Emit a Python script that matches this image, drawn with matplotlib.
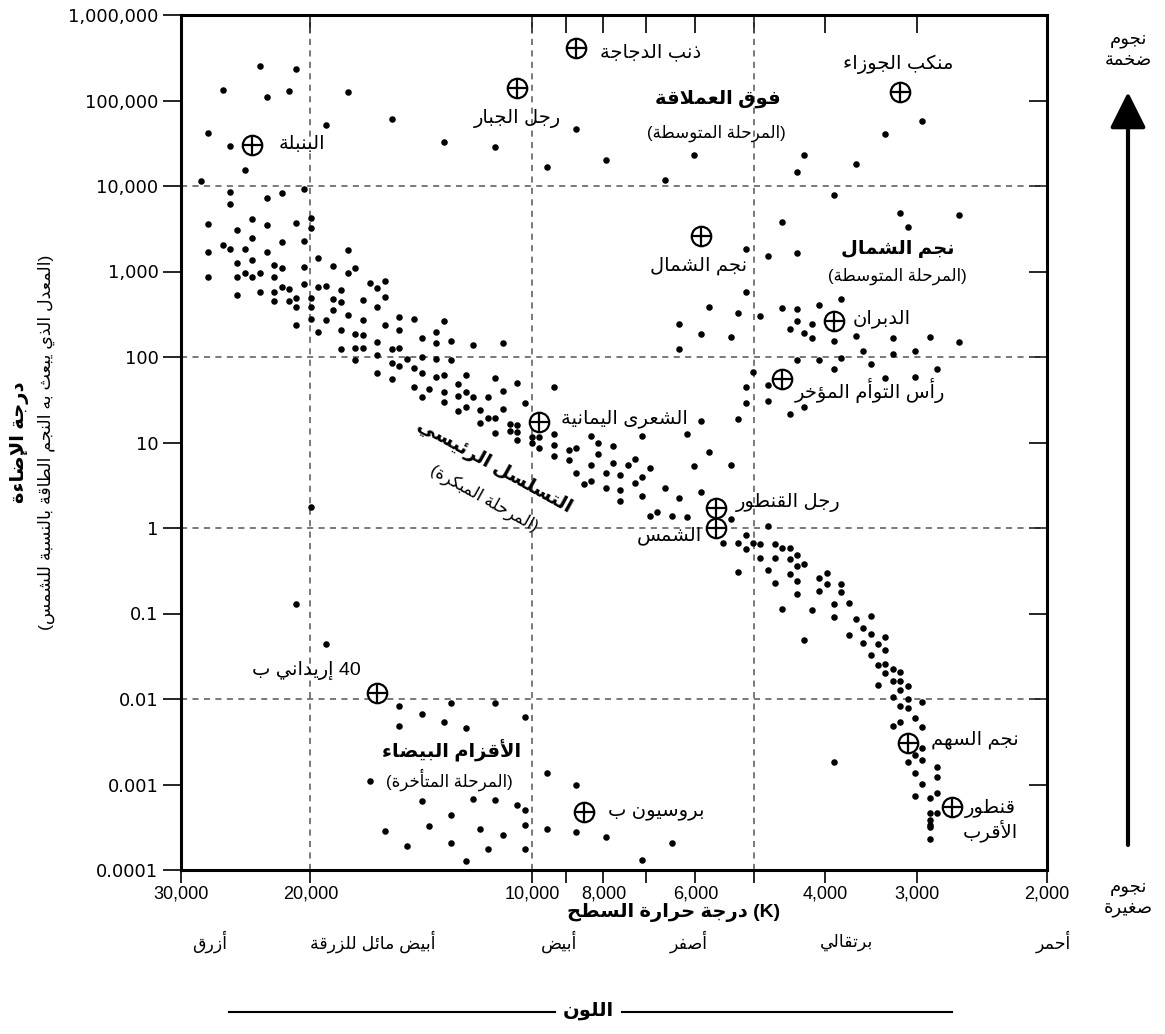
import re
import matplotlib
matplotlib.use("Agg")
import matplotlib.pyplot as plt
from matplotlib.lines import Line2D
import numpy as np

plt.rcParams['font.family'] = ['Liberation Sans', 'DejaVu Sans']

W, H = 1165, 1034

# ---------------- data (log10 T [K], log10 L [L_sun]) ----------------
supergiants = [
    (4.37, 5.40), (4.32, 5.37), (4.42, 5.12), (4.36, 5.04), (4.33, 5.11),
    (4.25, 5.10), (4.19, 4.78), (4.28, 4.71), (4.44, 4.62), (4.12, 4.52),
    (4.41, 4.47), (4.39, 4.19), (4.45, 4.06),
    (4.05, 4.46), (3.98, 4.22), (3.94, 4.67), (3.90, 4.30), (3.82, 4.07),
    (3.78, 4.36), (3.47, 4.76), (3.52, 4.61), (3.63, 4.36), (3.64, 4.16),
    (3.56, 4.26),
]

giants = [
    (3.71, 3.26), (3.71, 2.76), (3.76, 2.58), (3.59, 3.90), (3.50, 3.68),
    (3.49, 3.52), (3.42, 3.66), (3.66, 3.58), (3.68, 3.18), (3.64, 3.22),
    (3.66, 2.57), (3.64, 2.56), (3.61, 2.61), (3.58, 2.68),
    (3.72, 2.51), (3.69, 2.48), (3.80, 2.39), (3.77, 2.27), (3.73, 2.23),
    (3.80, 2.09), (3.79, 1.10), (3.77, 1.25), (3.72, 1.28), (3.71, 1.65),
    (3.70, 1.83), (3.71, 1.46), (3.78, 0.73), (3.76, 0.89), (3.73, 0.74),
    (3.64, 2.42), (3.65, 2.33), (3.63, 2.28), (3.62, 2.39), (3.62, 2.22),
    (3.59, 2.19), (3.56, 2.25), (3.51, 2.22), (3.46, 2.23), (3.42, 2.17),
    (3.55, 2.07), (3.51, 2.03), (3.48, 2.07), (3.64, 1.97), (3.61, 1.97),
    (3.58, 1.99), (3.54, 1.92), (3.59, 1.86), (3.52, 1.76), (3.48, 1.77),
    (3.45, 1.86), (3.68, 1.67), (3.68, 1.48), (3.63, 1.41), (3.65, 1.33),
]

main_sequence = [
    (4.41, 3.93), (4.36, 3.86), (4.34, 3.92), (4.31, 3.96), (4.41, 3.79),
    (4.44, 3.56), (4.38, 3.61), (4.36, 3.54), (4.32, 3.57), (4.30, 3.63),
    (4.30, 3.51), (4.40, 3.48), (4.38, 3.39), (4.34, 3.34), (4.31, 3.36),
    (4.44, 3.23), (4.42, 3.31), (4.41, 3.26), (4.39, 3.26), (4.36, 3.23),
    (4.25, 3.25), (4.29, 3.16), (4.40, 3.10), (4.38, 3.13), (4.35, 3.08),
    (4.34, 3.04), (4.31, 3.05), (4.27, 3.07), (4.24, 3.04), (4.44, 2.93),
    (4.40, 2.93), (4.39, 2.98), (4.38, 2.93), (4.37, 2.98), (4.35, 2.93),
    (4.25, 2.98), (4.22, 2.87), (4.21, 2.81), (4.20, 2.89), (4.31, 2.85),
    (4.34, 2.82), (4.33, 2.80), (4.29, 2.82), (4.28, 2.83), (4.26, 2.78),
    (4.40, 2.73), (4.37, 2.76), (4.35, 2.76), (4.35, 2.65), (4.33, 2.66),
    (4.32, 2.69), (4.30, 2.69), (4.27, 2.68), (4.26, 2.64), (4.23, 2.67),
    (4.20, 2.70), (4.32, 2.58), (4.30, 2.59), (4.27, 2.55), (4.21, 2.59),
    (4.32, 2.37), (4.30, 2.44), (4.28, 2.43), (4.29, 2.29), (4.26, 2.31),
    (4.25, 2.49), (4.23, 2.43), (4.24, 2.27), (4.23, 2.26), (4.26, 2.09),
    (4.24, 2.11), (4.23, 2.11), (4.21, 2.18), (4.24, 1.97), (4.21, 2.02),
    (4.20, 2.38), (4.18, 2.47), (4.18, 2.32), (4.16, 2.44), (4.12, 2.42),
    (4.15, 2.22), (4.13, 2.29), (4.13, 2.16), (4.11, 2.19), (4.19, 2.09),
    (4.18, 2.10), (4.19, 1.93), (4.18, 1.89), (4.17, 1.98), (4.15, 2.00),
    (4.13, 1.98), (4.11, 1.97), (4.16, 1.87), (4.15, 1.81), (4.13, 1.77),
    (4.12, 1.79), (4.21, 1.81), (4.19, 1.74), (4.16, 1.65), (4.14, 1.62),
    (4.12, 1.59), (4.15, 1.53), (4.12, 1.47), (4.10, 1.68), (4.10, 1.54),
    (4.10, 1.37),
    (4.08, 2.14), (4.04, 2.16), (4.09, 1.79), (4.05, 1.75), (4.02, 1.70),
    (4.04, 1.60), (3.97, 1.65), (4.09, 1.59), (4.08, 1.53), (4.06, 1.53),
    (4.01, 1.46), (4.09, 1.42), (4.07, 1.38), (4.04, 1.39), (4.06, 1.29),
    (4.05, 1.29), (4.07, 1.23), (4.03, 1.22), (4.02, 1.21), (4.05, 1.11),
    (4.03, 1.13), (4.02, 1.12), (4.00, 1.07), (4.02, 1.03), (4.00, 0.99),
    (3.99, 1.07), (3.97, 1.10), (3.99, 0.93), (3.97, 0.97), (3.95, 0.91),
    (3.97, 0.84), (3.95, 0.80), (3.94, 0.93), (3.92, 1.08), (3.91, 0.99),
    (3.91, 0.87), (3.89, 0.96), (3.85, 1.08), (3.94, 0.64), (3.93, 0.52),
    (3.92, 0.55), (3.92, 0.74), (3.90, 0.64), (3.90, 0.47), (3.89, 0.76),
    (3.88, 0.62), (3.88, 0.44), (3.87, 0.74), (3.86, 0.81), (3.86, 0.53),
    (3.85, 0.60), (3.88, 0.32), (3.85, 0.38), (3.84, 0.70), (3.82, 0.47),
    (3.80, 0.35), (3.84, 0.14), (3.83, 0.19), (3.81, 0.14), (3.79, 0.13),
    (3.77, 0.42), (3.73, 0.10), (3.72, -0.52), (3.74, -0.18), (3.72, -0.18),
    (3.71, -0.08), (3.71, -0.25), (3.70, -0.17), (3.69, -0.19),
    (3.68, 0.02), (3.67, -0.19), (3.66, -0.23), (3.65, -0.23), (3.69, -0.35),
    (3.67, -0.35), (3.65, -0.36), (3.64, -0.32), (3.68, -0.49), (3.65, -0.54),
    (3.64, -0.44), (3.63, -0.42), (3.60, -0.53), (3.67, -0.64), (3.64, -0.62),
    (3.61, -0.58), (3.60, -0.65), (3.58, -0.65),
    (3.64, -0.77), (3.61, -0.74), (3.58, -0.75), (3.66, -0.95), (3.62, -0.96),
    (3.59, -0.89), (3.57, -0.88), (3.59, -1.04), (3.56, -1.07), (3.54, -1.03),
    (3.63, -1.31), (3.57, -1.25), (3.55, -1.17), (3.54, -1.24), (3.52, -1.28),
    (3.55, -1.34), (3.53, -1.36), (3.52, -1.43), (3.54, -1.48), (3.53, -1.60),
    (3.52, -1.59), (3.51, -1.65), (3.50, -1.68), (3.52, -1.70), (3.51, -1.79),
    (3.50, -1.79), (3.49, -1.85), (3.53, -1.84), (3.50, -1.90), (3.51, -1.98),
    (3.49, -2.00), (3.47, -2.03), (3.50, -2.08), (3.49, -2.11), (3.48, -2.22),
    (3.51, -2.32), (3.50, -2.27), (3.47, -2.33), (3.47, -2.57), (3.48, -2.65),
    (3.47, -2.71), (3.49, -2.74), (3.48, -2.86), (3.45, -2.80), (3.45, -2.91),
    (3.47, -2.99), (3.48, -3.13), (3.46, -3.16), (3.45, -3.10), (3.46, -3.33),
    (3.45, -3.33), (3.46, -3.42), (3.46, -3.47), (3.46, -3.50), (3.46, -3.64),
    (3.59, -2.74),
]

white_dwarfs = [
    (4.30, 0.25), (4.32, -0.89), (4.28, -1.36),
    (4.18, -2.08), (4.15, -2.18), (4.11, -2.05), (4.18, -2.32), (4.12, -2.27),
    (4.22, -2.96), (4.15, -3.19), (4.11, -3.36), (4.14, -3.48), (4.20, -3.54),
    (4.17, -3.72), (4.11, -3.69),
    (4.05, -2.05), (4.01, -2.21), (4.09, -2.34), (3.98, -2.87), (3.94, -3.01),
    (4.08, -3.17), (4.05, -3.18), (4.02, -3.24), (4.01, -3.30), (4.01, -3.47),
    (4.07, -3.52), (4.04, -3.59), (4.06, -3.75), (4.01, -3.76), (4.09, -3.90),
    (3.98, -3.52), (3.94, -3.55), (3.90, -3.61), (3.81, -3.69), (3.85, -3.88),
]

# named stars
star_names = ["البنبلة", "ذنب الدجاجة", "رجل الجبار", "منكب الجوزاء", "نجم الشمال",
              "الدبران", "رأس التوأم المؤخر", "الشعرى اليمانية", "رجل القنطور",
              "الشمس", "40 إريداني ب", "بروسيون ب", "نجم السهم", "قنطور\nالأقرب"]
star_log_t = [4.38, 3.94, 4.02, 3.50, 3.77, 3.59, 3.66, 3.99, 3.75, 3.75,
              4.21, 3.93, 3.49, 3.43]
star_log_l = [4.48, 5.61, 5.15, 5.10, 3.41, 2.42, 1.74, 1.24, 0.23, 0.00,
              -1.93, -3.32, -2.51, -3.26]

x_ticks = [30000, 20000, 10000, 9000, 8000, 7000, 6000, 5000, 4000, 3000, 2000]
x_labels = ["30,000", "20,000", "10,000", "", "8,000", "", "6,000", "",
            "4,000", "3,000", "2,000"]
y_ticks = [1e6, 1e5, 1e4, 1e3, 1e2, 10, 1, 0.1, 0.01, 0.001, 0.0001]
y_labels = ["1,000,000", "100,000", "10,000", "1,000", "100", "10", "1",
            "0.1", "0.01", "0.001", "0.0001"]
color_names = ["أزرق", "أبيض مائل للزرقة", "أبيض", "أصفر", "برتقالي", "أحمر"]

# ---------------- Arabic shaping (matplotlib draws no RTL/joining) ----------------
DUAL = {'ئ': 0xFE89, 'ب': 0xFE8F, 'ت': 0xFE95, 'ث': 0xFE99, 'ج': 0xFE9D,
        'ح': 0xFEA1, 'خ': 0xFEA5, 'س': 0xFEB1, 'ش': 0xFEB5, 'ص': 0xFEB9,
        'ض': 0xFEBD, 'ط': 0xFEC1, 'ظ': 0xFEC5, 'ع': 0xFEC9, 'غ': 0xFECD,
        'ف': 0xFED1, 'ق': 0xFED5, 'ك': 0xFED9, 'ل': 0xFEDD, 'م': 0xFEE1,
        'ن': 0xFEE5, 'ه': 0xFEE9, 'ي': 0xFEF1}
RIGHT = {'آ': 0xFE81, 'أ': 0xFE83, 'ؤ': 0xFE85, 'إ': 0xFE87, 'ا': 0xFE8D,
         'ة': 0xFE93, 'د': 0xFEA9, 'ذ': 0xFEAB, 'ر': 0xFEAD, 'ز': 0xFEAF,
         'و': 0xFEED, 'ى': 0xFEEF}
LAM_ALEF = {'آ': 0xFEF5, 'أ': 0xFEF7, 'إ': 0xFEF9, 'ا': 0xFEFB}


def shape_line(text):
    units = []
    i = 0
    while i < len(text):
        c = text[i]
        if c == 'ل' and i + 1 < len(text) and text[i + 1] in LAM_ALEF:
            units.append((LAM_ALEF[text[i + 1]], 'R'))
            i += 2
            continue
        if c in DUAL:
            units.append((DUAL[c], 'D'))
        elif c in RIGHT:
            units.append((RIGHT[c], 'R'))
        elif c == 'ء':
            units.append((0xFE80, 'U'))
        else:
            units.append((c, None))
        i += 1
    out = []
    for k, (g, t) in enumerate(units):
        if t is None:
            out.append(g)
            continue
        if t == 'U':
            out.append(chr(g))
            continue
        join_prev = k > 0 and units[k - 1][1] == 'D'
        join_next = t == 'D' and k + 1 < len(units) and units[k + 1][1] in ('D', 'R')
        if join_prev and join_next:
            idx = 3
        elif join_prev:
            idx = 1
        elif join_next:
            idx = 2
        else:
            idx = 0
        out.append(chr(g + idx))
    vis = ''.join(out)[::-1]
    vis = re.sub(r'[0-9A-Za-z.,]+', lambda m: m.group(0)[::-1], vis)
    return vis.translate(str.maketrans('()', ')('))


def ar(text):
    return '\n'.join(shape_line(line) for line in text.split('\n'))


def fig_xy(x, y):
    return x / W, 1 - y / H


# ---------------- figure ----------------
fig = plt.figure(figsize=(W / 100, H / 100), dpi=100)
ax = fig.add_axes([180.7 / W, 1 - 870 / H, 866 / W, 855 / H])
ax.set_xscale('log')
ax.set_yscale('log')
ax.set_xlim(30000, 2000)
ax.set_ylim(1e-4, 1e6)

for group in (supergiants, giants, main_sequence, white_dwarfs):
    lt, ll = zip(*group)
    ax.plot(10 ** np.array(lt), 10 ** np.array(ll), 'o', color='black',
            ms=4.7, mew=0, zorder=3)

# dashed guide lines
for yv in (1e4, 1e2, 1, 1e-2):
    ax.axhline(yv, color='#555555', lw=1.1, ls=(0, (4, 3.5)), zorder=1)
for xv in (20000, 10000, 5000):
    ax.axvline(xv, color='#555555', lw=1.1, ls=(0, (4, 3.5)), zorder=1)

ax.set_xticks(x_ticks)
ax.set_xticklabels(x_labels, fontsize=13,
                   family=['Liberation Sans Narrow', 'Liberation Sans'])
ax.set_yticks(y_ticks)
ax.set_yticklabels(y_labels, fontsize=13, family=['DejaVu Sans'])
ax.minorticks_off()
ax.tick_params(axis='y', direction='out', length=13, width=1.2, pad=3)
ax.tick_params(axis='x', direction='out', length=9, width=1.2, pad=2)
for s in ax.spines.values():
    s.set_linewidth(2.2)

top = ax.secondary_xaxis('top')
top.set_xticks(x_ticks)
top.set_xticklabels([])
top.minorticks_off()
top.tick_params(direction='in', length=13, width=1.2)
right = ax.secondary_yaxis('right')
right.set_yticks(y_ticks)
right.set_yticklabels([])
right.minorticks_off()
right.tick_params(direction='in', length=13, width=1.2)

# named stars
offsets = [(50, 0), (74, -4), (0, -31), (-2, 28), (-3, -29), (48, 2), (88, -11),
           (85, 3), (72, 6), (-47, -8), (-71, 23), (73, 0), (67, 3), (39, -14)]
for name, lt, ll, off in zip(star_names, star_log_t, star_log_l, offsets):
    tx, ly = 10 ** lt, 10 ** ll
    ax.plot(tx, ly, 'o', ms=14, mfc='white', mec='black', mew=1.6, zorder=4)
    ax.plot(tx, ly, '+', ms=14, color='black', mew=1.6, zorder=5)
    ax.annotate(ar(name), (tx, ly), xytext=off, textcoords='offset pixels',
                ha='center', va='center', fontsize=14, linespacing=1.1)

# region labels (axes fraction)
ax.text(0.620, 0.902, ar("فوق العملاقة"), transform=ax.transAxes,
        ha='center', va='center', fontsize=14, fontweight='bold')
ax.text(0.619, 0.862, ar("(المرحلة المتوسطة)"), transform=ax.transAxes,
        ha='center', va='center', fontsize=12)
ax.text(0.828, 0.726, ar("نجم الشمال"), transform=ax.transAxes,
        ha='center', va='center', fontsize=14, fontweight='bold')
ax.text(0.828, 0.694, ar("(المرحلة المتوسطة)"), transform=ax.transAxes,
        ha='center', va='center', fontsize=12)
ax.text(0.313, 0.140, ar("الأقزام البيضاء"), transform=ax.transAxes,
        ha='center', va='center', fontsize=14, fontweight='bold')
ax.text(0.310, 0.105, ar("(المرحلة المتأخرة)"), transform=ax.transAxes,
        ha='center', va='center', fontsize=12)
ax.text(0.362, 0.472, ar("التسلسل الرئيسي"), transform=ax.transAxes,
        ha='center', va='center', fontsize=14, fontweight='bold', rotation=-29)
ax.text(0.350, 0.434, ar("(المرحلة المبكرة)"), transform=ax.transAxes,
        ha='center', va='center', fontsize=12, rotation=-29)

# axis titles
fig.text(*fig_xy(674, 913), ar("(K) درجة حرارة السطح"), ha='center', va='center',
         fontsize=14, fontweight='bold')
fig.text(*fig_xy(20, 442), ar("درجة الإضاءة"), ha='center', va='center',
         fontsize=14, fontweight='bold', rotation=90)
fig.text(*fig_xy(46, 442), ar("(المعدل الذي يبعث به النجم الطاقة بالنسبة للشمس)"),
         ha='center', va='center', fontsize=12.5, rotation=90)

# colour band
for name, xp in zip(color_names, [210, 373, 559, 689, 847, 1053]):
    fig.text(*fig_xy(xp, 942), ar(name), ha='center', va='center', fontsize=12.5)
fig.text(*fig_xy(588, 1011), ar("اللون"), ha='center', va='center',
         fontsize=14, fontweight='bold')
for x0, x1 in ((229, 555), (622, 952)):
    fig.add_artist(Line2D([x0 / W, x1 / W], [1 - 1012 / H] * 2,
                          transform=fig.transFigure, color='black', lw=1.5))

# size arrow on the right
ax.annotate('', xy=(1128, H - 92), xytext=(1128, H - 845),
            xycoords='figure pixels', textcoords='figure pixels',
            arrowprops=dict(arrowstyle='-|>,head_length=1.0,head_width=0.5',
                            lw=3, color='black', mutation_scale=22,
                            shrinkA=0, shrinkB=0))
fig.text(*fig_xy(1128, 50), ar("نجوم\nضخمة"), ha='center', va='center',
         fontsize=13, linespacing=1.3)
fig.text(*fig_xy(1128, 898), ar("نجوم\nصغيرة"), ha='center', va='center',
         fontsize=13, linespacing=1.3)

fig.savefig('out.png', dpi=100)
